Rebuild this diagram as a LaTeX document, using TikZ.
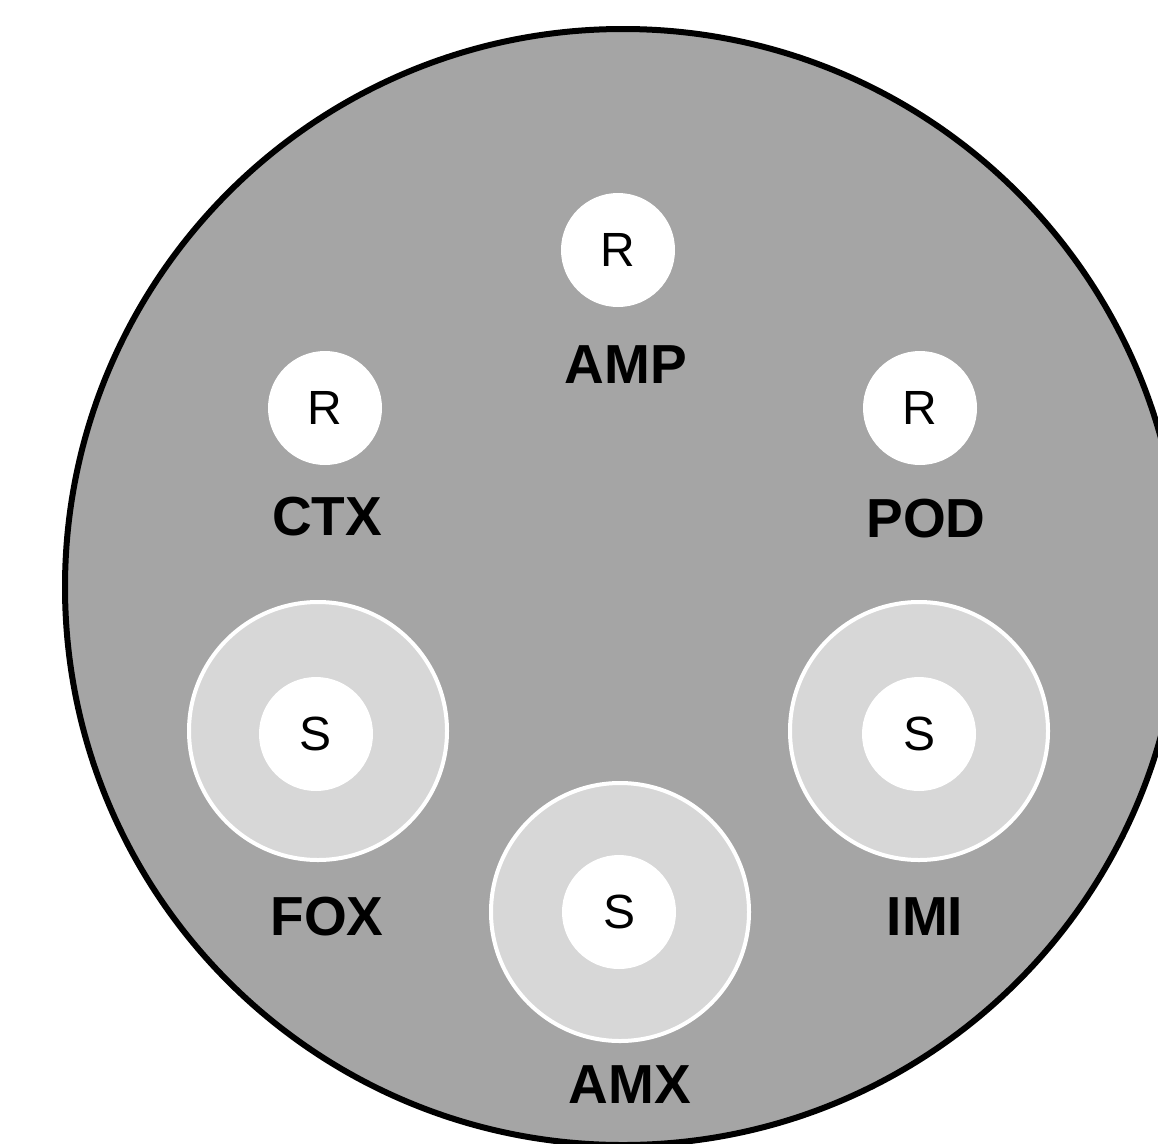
\documentclass[tikz,border=0pt]{standalone}
\usepackage{fontspec}
\setmainfont{Liberation Sans}
\definecolor{plate}{gray}{0.647}
\definecolor{zonegray}{gray}{0.845}
\tikzset{
  disc/.style={circle, fill=white, minimum size=114pt, inner sep=0pt,
    font=\fontsize{48}{48}\selectfont},
  zone/.style={circle, fill=zonegray, draw=white, line width=4pt,
    minimum size=258pt, inner sep=0pt},
  lbl/.style={inner sep=0pt, font=\fontsize{55}{55}\selectfont\bfseries}
}
\begin{document}
\begin{tikzpicture}[x=1pt,y=-1pt]
\useasboundingbox (0,0) rectangle (1158,1143);
\clip (0,0) rectangle (1158,1143);
% agar plate
\draw[line width=6pt, fill=plate] (623,587) circle (558);
% inhibition zones
\node[zone] (foxzone) at (318,731) {};
\node[zone] (imizone) at (919,731) {};
\node[zone] (amxzone) at (620,912) {};
% antibiotic discs
\node[disc] (amp) at (618,250) {R};
\node[disc] (ctx) at (325,408) {R};
\node[disc] (pod) at (920,408) {R};
\node[disc] (fox) at (316,734) {S};
\node[disc] (imi) at (919,734) {S};
\node[disc] (amx) at (619,912) {S};
% labels
\node[lbl] (amplbl) at (626,365) {AMP};
\node[lbl] (ctxlbl) at (327,517) {CTX};
\node[lbl] (podlbl) at (926,519) {POD};
\node[lbl] (foxlbl) at (327,917) {FOX};
\node[lbl] (imilbl) at (925,917) {IMI};
\node[lbl] (amxlbl) at (630,1085) {AMX};
\end{tikzpicture}
\end{document}
